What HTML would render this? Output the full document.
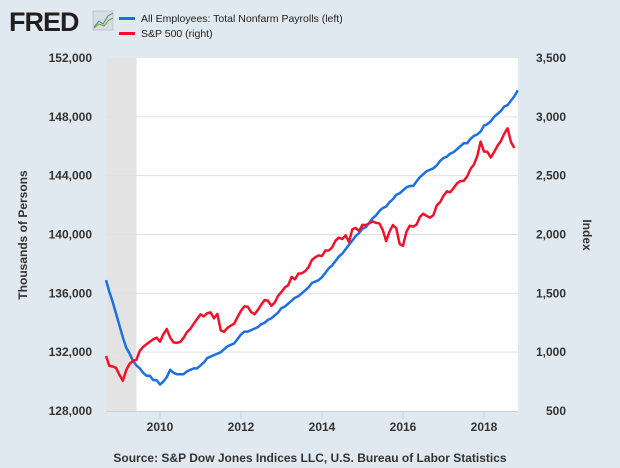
<!DOCTYPE html>
<html><head><meta charset="utf-8"><style>
body{margin:0;background:#e1e9f0;font-family:"Liberation Sans",sans-serif}
svg{display:block}
</style></head><body>
<svg width="620" height="468">
<rect x="0" y="0" width="620" height="468" fill="#e1e9f0"/>
<g>
<text x="9" y="31" font-size="27" font-weight="bold" fill="#231f20" font-family="Liberation Sans,sans-serif" letter-spacing="-1">FRED</text>
<rect x="93" y="11" width="20" height="19" fill="#d8dde0" stroke="#aab" stroke-width="0.5"/>
<polyline points="94,27 99,21 103,24 108,16 113,13" fill="none" stroke="#3a8ab0" stroke-width="1"/>
<polyline points="94,28 99,24 104,26 109,20 113,18" fill="none" stroke="#7a9a3a" stroke-width="1"/>
</g>
<g>
<rect x="119" y="17" width="16" height="3" fill="#1d6fe0"/>
<text x="141" y="22" font-size="10.5" fill="#222">All Employees: Total Nonfarm Payrolls (left)</text>
<rect x="119" y="32" width="16" height="3" fill="#f0112b"/>
<text x="141" y="37" font-size="10.5" fill="#222">S&amp;P 500 (right)</text>
</g>
<rect x="106" y="58" width="412" height="353" fill="#fff"/>
<g id="chart"></g>
<text x="0" y="0" transform="translate(27,235) rotate(-90)" text-anchor="middle" font-size="12" font-weight="bold" fill="#333">Thousands of Persons</text>
<text x="0" y="0" transform="translate(583,235) rotate(90)" text-anchor="middle" font-size="12" font-weight="bold" fill="#333">Index</text>
<text x="310" y="462" text-anchor="middle" font-size="12" font-weight="bold" fill="#333">Source: S&amp;P Dow Jones Indices LLC, U.S. Bureau of Labor Statistics</text>
</svg>
<script>
const startYear = 2008.75; // Oct 2008 monthly
const leftTicks = [128000,132000,136000,140000,144000,148000,152000];
const rightTicks = [500,1000,1500,2000,2500,3000,3500];
const yearTicks = [2010,2012,2014,2016,2018];
const recession = [2008.67, 2009.42];
const payrolls = [136.9,136.1,135.4,
134.6,133.8,133.0,132.3,131.9,131.4,131.1,130.9,130.6,130.4,130.4,130.1,
130.1,129.8,130.0,130.3,130.8,130.6,130.5,130.5,130.5,130.7,130.8,130.9,
130.9,131.1,131.3,131.6,131.7,131.8,131.9,132.0,132.2,132.4,132.5,132.6,
132.9,133.2,133.4,133.4,133.5,133.6,133.7,133.9,134.0,134.2,134.3,134.5,
134.7,135.0,135.1,135.3,135.5,135.7,135.8,136.0,136.2,136.4,136.7,136.8,
136.9,137.1,137.4,137.7,137.9,138.2,138.5,138.7,139.0,139.3,139.6,139.9,
140.1,140.4,140.5,140.8,141.1,141.3,141.6,141.8,141.9,142.2,142.4,142.7,
142.8,143.0,143.2,143.3,143.3,143.6,143.9,144.1,144.3,144.4,144.5,144.7,
145.0,145.2,145.3,145.5,145.6,145.8,146.0,146.2,146.2,146.5,146.7,146.8,
147.0,147.4,147.5,147.7,148.0,148.2,148.4,148.7,148.8,149.1,149.4,149.8];
const sp500 = [968,883,878,
866,806,757,848,902,926,935,1010,1044,1068,1088,1110,
1123,1089,1152,1197,1125,1083,1079,1087,1122,1171,1198,1242,
1282,1321,1304,1331,1338,1287,1325,1185,1173,1207,1226,1243,
1300,1352,1389,1386,1341,1323,1359,1404,1443,1437,1394,1422,
1480,1512,1550,1570,1640,1619,1668,1670,1688,1721,1783,1807,
1822,1817,1864,1864,1890,1947,1973,1961,1993,1937,2045,2055,
2029,2083,2080,2095,2111,2099,2094,2039,1944,2024,2080,2054,
1919,1904,2022,2075,2066,2084,2149,2177,2158,2143,2165,2247,
2275,2329,2367,2359,2395,2434,2454,2456,2493,2557,2594,2665,
2790,2705,2703,2654,2701,2754,2794,2857,2902,2785,2735];
const NS='http://www.w3.org/2000/svg';
const g=document.getElementById('chart');
const L=106,R=518,T=58,B=411;
const xs=t=>160+(t-2010)*40.5;
const yl=v=>B-(v-128000)/24000*(B-T);
const yr=v=>B-(v-500)/3000*(B-T);
function mk(tag,a){const e=document.createElementNS(NS,tag);for(const k in a)e.setAttribute(k,a[k]);g.appendChild(e);return e;}
const rx1=Math.max(L,xs(recession[0])), rx2=xs(recession[1]);
const rec=mk('rect',{x:rx1,y:T,width:rx2-rx1,height:B-T,fill:'#e3e3e3'});


leftTicks.forEach((v,i)=>{
  const y=yl(v);
  if(i>0&&i<leftTicks.length-1){const ln=mk('line',{x1:L,x2:R,y1:y,y2:y,stroke:'#e0e0e0','stroke-width':1});
  
  }
  const t=mk('text',{x:92,y:y+4,'text-anchor':'end','font-size':12,'font-weight':'bold',fill:'#333'});
  t.textContent=v.toLocaleString('en-US');
  
  
});
rightTicks.forEach(v=>{
  const t=mk('text',{x:566,y:yr(v)+4,'text-anchor':'end','font-size':12,'font-weight':'bold',fill:'#333'});
  t.textContent=v.toLocaleString('en-US');
  
  
});
mk('line',{x1:L,x2:R,y1:B+0.5,y2:B+0.5,stroke:'#c8d0e0','stroke-width':1});
yearTicks.forEach(yv=>{
  const x=xs(yv);
  const tk=mk('line',{x1:x,x2:x,y1:B,y2:B+8,stroke:'#c8d0e0'});
  
  
  const t=mk('text',{x:x,y:B+20,'text-anchor':'middle','font-size':12,'font-weight':'bold',fill:'#333'});
  t.textContent=yv;
  
  
});
const tOf=i=>startYear+i/12;
const x0=i=>L+(xs(tOf(i))-xs(startYear));
const p1=mk('polyline',{points:payrolls.map((v,i)=>x0(i)+','+yl(v*1000)).join(' '),fill:'none',stroke:'#1d6fe0','stroke-width':2.5,'stroke-linejoin':'round'});


const p2=mk('polyline',{points:sp500.map((v,i)=>x0(i)+','+yr(v)).join(' '),fill:'none',stroke:'#f0112b','stroke-width':2.5,'stroke-linejoin':'round'});


</script>
</body></html>
